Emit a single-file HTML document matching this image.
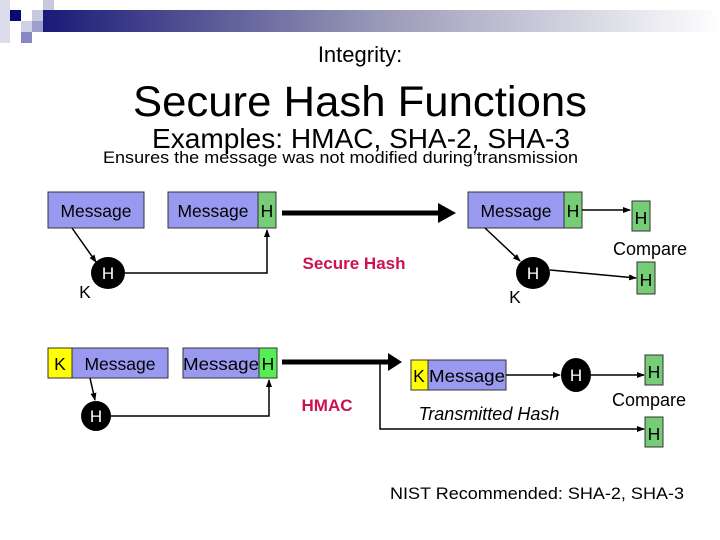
<!DOCTYPE html>
<html><head><meta charset="utf-8"><style>
html,body{margin:0;padding:0;background:#fff;}
svg{display:block;}
text{font-family:"Liberation Sans",sans-serif;}
</style></head><body>
<svg width="720" height="540" viewBox="0 0 720 540" xmlns="http://www.w3.org/2000/svg">
<defs>
<linearGradient id="g" x1="0" x2="1" y1="0" y2="0">
<stop offset="0" stop-color="#1a1a78"/><stop offset="0.5" stop-color="#9a9ab8"/><stop offset="1" stop-color="#ffffff"/>
</linearGradient>
<marker id="a" markerWidth="8" markerHeight="8" refX="7" refY="4" orient="auto" markerUnits="userSpaceOnUse"><path d="M0,1 L8,4 L0,7z" fill="#000"/></marker>
</defs>
<rect x="0" y="0" width="720" height="540" fill="#fff"/>
<rect x="43" y="10" width="677" height="22" fill="url(#g)"/>
<rect x="0" y="0" width="10" height="43" fill="#dcdcec"/>
<rect x="10" y="10" width="11" height="11" fill="#0a0a70"/>
<rect x="32" y="10" width="11" height="11" fill="#c8c8e0"/>
<rect x="43" y="0" width="11" height="10" fill="#c8c8e0"/>
<rect x="32" y="21" width="11" height="11" fill="#9e9ece"/>
<rect x="21" y="21" width="11" height="11" fill="#d0d0e8"/>
<rect x="21" y="32" width="11" height="11" fill="#8888c0"/>
<text x="360" y="62" font-size="22" text-anchor="middle">Integrity:</text>
<text x="360" y="116" font-size="43" text-anchor="middle" textLength="454" lengthAdjust="spacingAndGlyphs">Secure Hash Functions</text>
<text x="361" y="148" font-size="28" text-anchor="middle" textLength="418" lengthAdjust="spacingAndGlyphs">Examples: HMAC, SHA-2, SHA-3</text>
<text x="103" y="163" font-size="17" textLength="475" lengthAdjust="spacingAndGlyphs">Ensures the message was not modified during’transmission</text>

<g stroke="#333" stroke-width="1">
<rect x="48" y="192" width="96" height="36" fill="#9999f0"/>
<rect x="168" y="192" width="90" height="36" fill="#9999f0"/>
<rect x="258" y="192" width="18" height="36" fill="#77cc77"/>
<rect x="468" y="192" width="96" height="36" fill="#9999f0"/>
<rect x="564" y="192" width="18" height="36" fill="#77cc77"/>
<rect x="632" y="201" width="18" height="30" fill="#77cc77"/>
<rect x="637" y="262" width="18" height="32" fill="#77cc77"/>
<rect x="48" y="348" width="24" height="30" fill="#ffff00"/>
<rect x="72" y="348" width="96" height="30" fill="#9999f0"/>
<rect x="183" y="348" width="76" height="30" fill="#9999f0"/>
<rect x="259" y="348" width="18" height="30" fill="#55ee55"/>
<rect x="411" y="360" width="17" height="30" fill="#ffff00"/>
<rect x="428" y="360" width="78" height="30" fill="#9999f0"/>
<rect x="645" y="355" width="18" height="30" fill="#77cc77"/>
<rect x="645" y="417" width="18" height="30" fill="#77cc77"/>
</g>
<g fill="#000">
<ellipse cx="108" cy="273" rx="17" ry="16"/>
<ellipse cx="533" cy="273" rx="17" ry="16"/>
<ellipse cx="96" cy="416" rx="15" ry="15"/>
<ellipse cx="576" cy="375" rx="15" ry="17"/>
</g>
<g stroke="#000" stroke-width="1.5" fill="none">
<line x1="72" y1="228" x2="96" y2="262" marker-end="url(#a)"/>
<polyline points="125,273 267,273 267,230" marker-end="url(#a)"/>
<line x1="485" y1="228" x2="520" y2="261" marker-end="url(#a)"/>
<line x1="582" y1="210" x2="630" y2="210" marker-end="url(#a)"/>
<line x1="550" y1="270" x2="636" y2="278" marker-end="url(#a)"/>
<line x1="90" y1="378" x2="95" y2="400" marker-end="url(#a)"/>
<polyline points="111,416 269,416 269,380" marker-end="url(#a)"/>
<line x1="506" y1="375" x2="560" y2="375" marker-end="url(#a)"/>
<line x1="591" y1="375" x2="644" y2="375" marker-end="url(#a)"/>
<polyline points="380,362 380,429 644,429" marker-end="url(#a)"/>
</g>
<g stroke="#000" stroke-width="5">
<line x1="282" y1="213" x2="440" y2="213"/>
<line x1="282" y1="362" x2="390" y2="362"/>
</g>
<path d="M438,203 L456,213 L438,223z" fill="#000"/>
<path d="M388,353 L402,362 L388,371z" fill="#000"/>

<g font-size="17.5" fill="#000">
<text x="96" y="217" text-anchor="middle">Message</text>
<text x="213" y="217" text-anchor="middle">Message</text>
<text x="267" y="217" text-anchor="middle">H</text>
<text x="516" y="217" text-anchor="middle">Message</text>
<text x="573" y="217" text-anchor="middle">H</text>
<text x="641" y="224" text-anchor="middle">H</text>
<text x="646" y="286" text-anchor="middle">H</text>
<text x="650" y="255" font-size="18" text-anchor="middle">Compare</text>
<text x="85" y="298" text-anchor="middle">K</text>
<text x="515" y="303" text-anchor="middle">K</text>
<text x="60" y="370" text-anchor="middle">K</text>
<text x="120" y="370" text-anchor="middle">Message</text>
<text x="221" y="370" text-anchor="middle" textLength="76" lengthAdjust="spacingAndGlyphs">Message</text>
<text x="268" y="370" text-anchor="middle">H</text>
<text x="419" y="382" text-anchor="middle">K</text>
<text x="467" y="382" text-anchor="middle" textLength="76" lengthAdjust="spacingAndGlyphs">Message</text>
<text x="654" y="378" text-anchor="middle">H</text>
<text x="654" y="440" text-anchor="middle">H</text>
<text x="649" y="406" font-size="18" text-anchor="middle">Compare</text>
<text x="489" y="420" font-size="18" text-anchor="middle" font-style="italic">Transmitted Hash</text>
<text x="537" y="499" font-size="17" text-anchor="middle" textLength="294" lengthAdjust="spacingAndGlyphs">NIST Recommended: SHA-2, SHA-3</text>
</g>
<g font-size="17" fill="#fff" text-anchor="middle">
<text x="108" y="279">H</text>
<text x="533" y="279">H</text>
<text x="96" y="422">H</text>
<text x="576" y="381">H</text>
</g>
<g font-size="17" fill="#cc1155" font-weight="bold" text-anchor="middle">
<text x="354" y="269">Secure Hash</text>
<text x="327" y="411">HMAC</text>
</g>
</svg>
</body></html>
